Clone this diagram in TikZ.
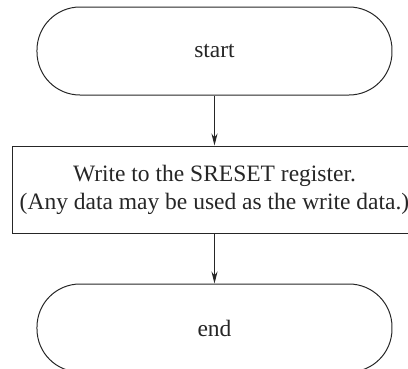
\documentclass[tikz,border=0pt]{standalone}
\usepackage{fontspec}
\setmainfont{Liberation Serif}
\usetikzlibrary{positioning,arrows.meta}

\begin{document}
\begin{tikzpicture}[->,>={Stealth[length=12pt,width=6pt]},node distance=50pt,line width=1pt,color=black!85,
	terminal/.style={draw,rectangle,rounded corners=43pt,minimum width=355pt,minimum height=88pt,font=\fontsize{23.5}{28}\selectfont},
	process/.style={draw,rectangle,minimum width=404pt,minimum height=87pt,align=center,font=\fontsize{23.5}{28}\selectfont}]
	\path[use as bounding box,clip] (-214.5pt,51pt) rectangle (193.5pt,-317pt);
	\node[terminal] (start) {start};
	\node[process] (write) [below=of start] {Write to the SRESET register.\\(Any data may be used as the write data.)};
	\node[terminal] (stop) [below=of write] {end};

	\draw (start) -- (write);
	\draw (write) -- (stop);
\end{tikzpicture}
\end{document}
